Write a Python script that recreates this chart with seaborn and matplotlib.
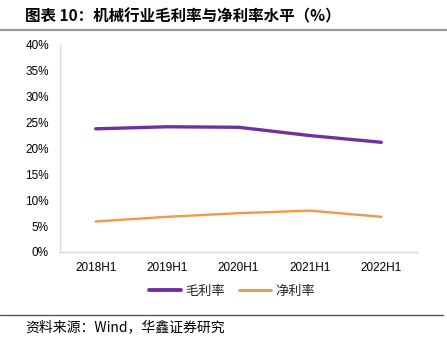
import matplotlib
matplotlib.use("Agg")
import matplotlib.pyplot as plt
import seaborn as sns
import pandas as pd
from matplotlib.lines import Line2D

categories = ["2018H1", "2019H1", "2020H1", "2021H1", "2022H1"]
gross_margin = [23.8, 24.2, 24.1, 22.5, 21.2]
net_margin = [5.9, 6.8, 7.5, 8.0, 6.8]
series_names = ["毛利率", "净利率"]
yticks = [0, 5, 10, 15, 20, 25, 30, 35, 40]

sns.set_theme(style="white")
plt.rcParams['font.family'] = ['Liberation Sans', 'Noto Sans CJK SC', 'DejaVu Sans']

df = pd.DataFrame({
    "cat": categories * 2,
    "x": list(range(len(categories))) * 2,
    "value": gross_margin + net_margin,
    "series": [series_names[0]] * len(categories) + [series_names[1]] * len(categories),
})

colors = {"毛利率": "#7030A0", "净利率": "#F79646"}
widths = {"毛利率": 2.4, "净利率": 1.7}

fig = plt.figure(figsize=(4.47, 3.47), dpi=100)
ax = fig.add_axes([60/447, 1-252/347, 357/447, 207/347])

for name in series_names:
    sub = df[df["series"] == name]
    sns.lineplot(data=sub, x="x", y="value", color=colors[name], linewidth=widths[name],
                 ax=ax, legend=False)

ax.set_xlim(-0.5, 4.5)
ax.set_ylim(0, 40)
ax.set_xticks(range(len(categories)))
ax.set_xticklabels(categories)
ax.set_yticks(yticks)
ax.set_yticklabels([f"{v}%" for v in yticks])
ax.set_xlabel("")
ax.set_ylabel("")
for s in ["top", "right"]:
    ax.spines[s].set_visible(False)
for s in ["left", "bottom"]:
    ax.spines[s].set_color("#D9D9D9")
    ax.spines[s].set_linewidth(1.0)
ax.tick_params(axis="y", direction="in", length=3, color="#D9D9D9", pad=8, labelsize=8.5, labelcolor="#000000")
ax.tick_params(axis="x", length=0, pad=7, labelsize=8.5, labelcolor="#000000")
ax.grid(False)

handles = [Line2D([0], [0], color=colors[n], linewidth=widths[n] + 0.4) for n in series_names]
fig.legend(handles, series_names, loc="center", bbox_to_anchor=(232/447, 1-291/347),
           ncol=2, frameon=False, handlelength=2.4, handletextpad=0.3, columnspacing=1.1,
           prop={"family": ["Noto Sans CJK SC", "DejaVu Sans"], "size": 9.5})

fig.text(25/447, 1-16/347, "图表 10：机械行业毛利率与净利率水平（%）", ha="left", va="center",
         fontsize=11.2, fontweight="bold", family=["Noto Sans CJK SC", "DejaVu Sans"], color="#000000")
fig.add_artist(Line2D([0, 1], [1-30/347, 1-30/347], color="#999999", linewidth=1.6, transform=fig.transFigure))
fig.add_artist(Line2D([0, 443/447], [1-315/347, 1-315/347], color="#555555", linewidth=1.0, transform=fig.transFigure))
fig.text(25/447, 1-327/347, "资料来源：Wind，华鑫证券研究", ha="left", va="center",
         fontsize=10, family=["Noto Sans CJK SC", "DejaVu Sans"], color="#000000")

fig.savefig("out.png", dpi=100)
